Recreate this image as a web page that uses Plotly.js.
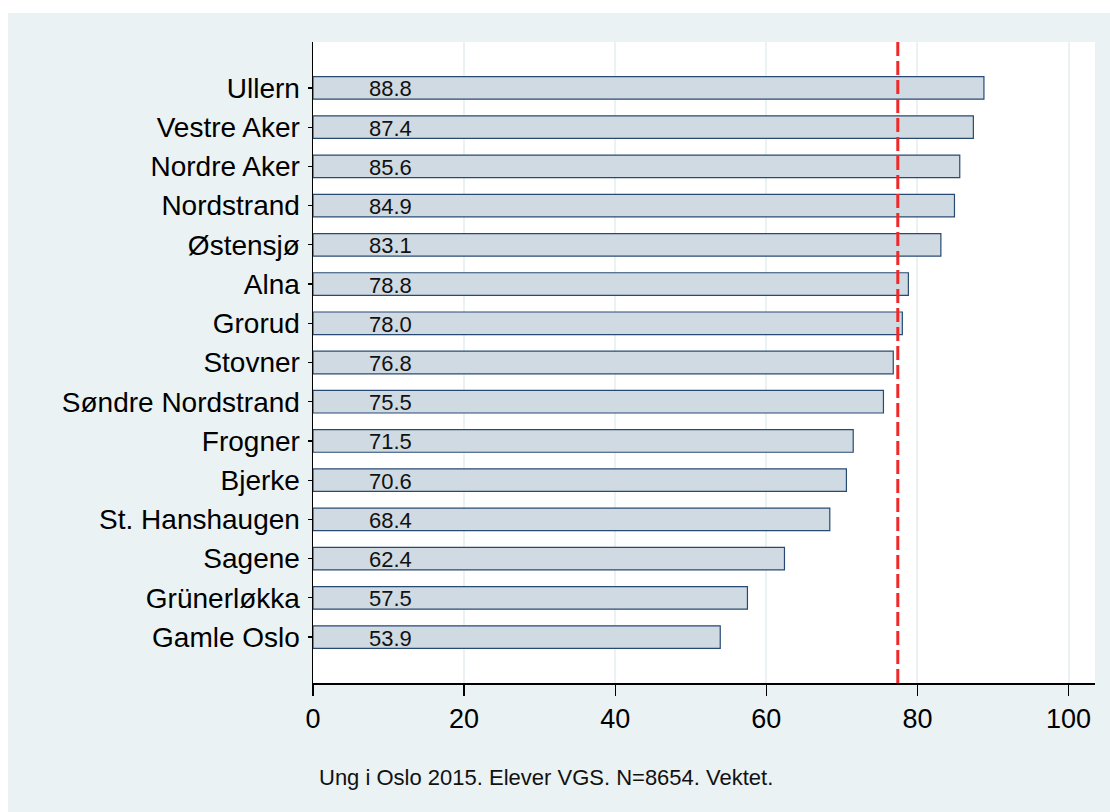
<!DOCTYPE html>
<html>
<head>
<meta charset="utf-8">
<script src="https://cdn.plot.ly/plotly-3.0.1.min.js"></script>
<style>
  html, body { margin: 0; padding: 0; background: #ffffff; width: 1110px; height: 812px; overflow: hidden; }
  #chart { position: absolute; left: 8px; top: 13px; width: 1102px; height: 799px; }
</style>
</head>
<body>
<div id="chart"></div>
<script>
// Data
const districts = ["Ullern", "Vestre Aker", "Nordre Aker", "Nordstrand", "Østensjø", "Alna", "Grorud",
  "Stovner", "Søndre Nordstrand", "Frogner", "Bjerke", "St. Hanshaugen", "Sagene", "Grünerløkka", "Gamle Oslo"];
const values = [88.8, 87.4, 85.6, 84.9, 83.1, 78.8, 78.0, 76.8, 75.5, 71.5, 70.6, 68.4, 62.4, 57.5, 53.9];
const referenceLine = 77.4;
const xTicks = [0, 20, 40, 60, 80, 100];
const caption = "Ung i Oslo 2015. Elever VGS. N=8654. Vektet.";

const font = "Liberation Sans, Arial, Helvetica, sans-serif";

const trace = {
  type: "bar",
  orientation: "h",
  x: values,
  y: districts,
  width: 0.575,
  marker: { color: "#D0DAE2", line: { color: "#284A72", width: 1.2 } },
  hoverinfo: "x+y"
};

const annotations = districts.map((d, i) => ({
  x: 7.2, y: d, xref: "x", yref: "y",
  text: values[i].toFixed(1),
  showarrow: false, xanchor: "left", yanchor: "middle", yshift: -1,
  font: { family: font, size: 22, color: "#111111" }
}));
annotations.push({
  x: 0.298, y: -0.148, xref: "paper", yref: "paper",
  text: caption, showarrow: false, xanchor: "center", yanchor: "middle",
  font: { family: font, size: 22, color: "#111111" }
});

const layout = {
  width: 1102, height: 799,
  margin: { l: 304.5, r: 15, t: 29, b: 129 },
  paper_bgcolor: "#EAF2F3",
  plot_bgcolor: "#FFFFFF",
  showlegend: false,
  bargap: 0,
  xaxis: {
    range: [0, 103.5],
    tickvals: xTicks,
    ticktext: xTicks.map(String),
    showgrid: true, gridcolor: "#EAF2F3", gridwidth: 2,
    zeroline: false,
    showline: true, linecolor: "#000000", linewidth: 1.5,
    ticks: "outside", ticklen: 11, tickwidth: 1.3, tickcolor: "#000000",
    tickfont: { family: font, size: 27, color: "#000000" },
    fixedrange: true
  },
  yaxis: {
    type: "category",
    range: [districts.length - 1 + 1.17, -1.17],
    showgrid: false, zeroline: false,
    showline: true, linecolor: "#000000", linewidth: 1.5,
    ticks: "outside", ticklen: 4, tickwidth: 1.2, tickcolor: "#000000",
    ticklabelstandoff: 2,
    tickfont: { family: font, size: 28, color: "#000000" },
    fixedrange: true
  },
  shapes: [{
    type: "line", xref: "x", yref: "paper",
    x0: referenceLine, x1: referenceLine, y0: 0, y1: 1,
    line: { color: "#F02828", width: 3, dash: "14px,5px" }
  }],
  annotations: annotations
};

Plotly.newPlot("chart", [trace], layout, { displayModeBar: false, staticPlot: true });
</script>
</body>
</html>
